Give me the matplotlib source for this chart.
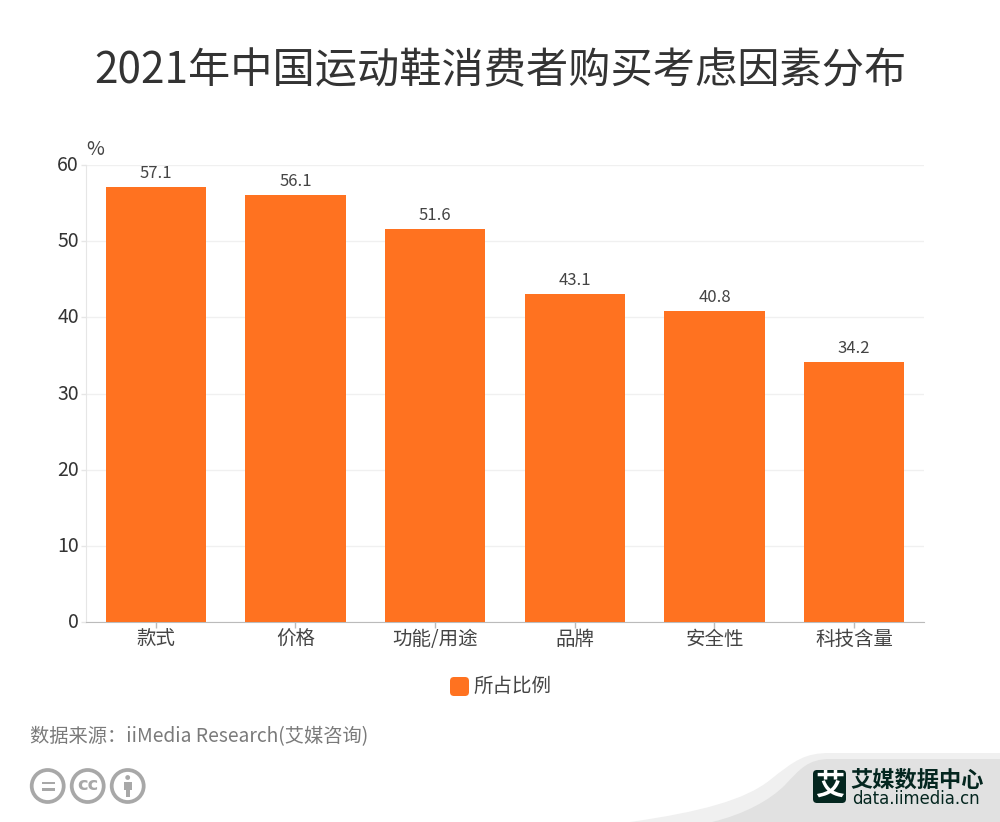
import matplotlib
matplotlib.use("Agg")
import matplotlib.pyplot as plt
from matplotlib.patches import Circle, FancyBboxPatch, PathPatch, Rectangle
from matplotlib.path import Path
from matplotlib.transforms import ScaledTranslation

plt.rcParams['font.family'] = ['Noto Sans CJK SC', 'DejaVu Sans']

title = "2021年中国运动鞋消费者购买考虑因素分布"
categories = ["款式", "价格", "功能/用途", "品牌", "安全性", "科技含量"]
values = [57.1, 56.1, 51.6, 43.1, 40.8, 34.2]
y_ticks = [0, 10, 20, 30, 40, 50, 60]
series_name = "所占比例"
source = "数据来源：iiMedia Research(艾媒咨询)"

orange = "#ff7220"
W, H = 1000, 822

fig = plt.figure(figsize=(10, 8.22), dpi=100)

# 背景层，用像素坐标画页脚装饰
bg = fig.add_axes([0, 0, 1, 1])
bg.set_xlim(0, W)
bg.set_ylim(H, 0)
bg.axis("off")

# 右下角灰色弧形
codes = [Path.MOVETO, Path.CURVE4, Path.CURVE4, Path.CURVE4, Path.CURVE4, Path.CURVE4, Path.CURVE4,
         Path.LINETO, Path.LINETO, Path.CLOSEPOLY]
light = Path([(630, 822), (700, 812), (745, 800), (770, 780), (795, 760), (805, 753), (830, 753),
              (1000, 753), (1000, 822), (630, 822)], codes)
bg.add_patch(PathPatch(light, fc="#f0f0f0", ec="none"))
dark = Path([(712, 822), (745, 814), (770, 800), (785, 785), (800, 769), (808, 759), (830, 759),
             (1000, 759), (1000, 822), (712, 822)], codes)
bg.add_patch(PathPatch(dark, fc="#e1e1e1", ec="none"))

# 艾媒 logo
bg.add_patch(FancyBboxPatch((813, 770), 33, 33, boxstyle="round,pad=0,rounding_size=4", fc="#04261f", ec="none"))
bg.text(829.5, 785.5, "艾", color="white", fontsize=21, fontweight="bold", ha="center", va="center")
bg.text(917, 780, "艾媒数据中心", color="#04261f", fontsize=16, fontweight="bold", ha="center", va="center")
bg.text(915.5, 798.5, "data.iimedia.cn", color="#04261f", fontsize=11.9, ha="center", va="center", family="DejaVu Sans")

# 版权图标
icon = "#a8a8a8"
for cx in [47.7, 87.7, 127.7]:
    bg.add_patch(Circle((cx, 786), 16, fc="none", ec=icon, lw=2.7))
bg.add_patch(Rectangle((41.5, 781.5), 13, 2.6, fc=icon, ec="none"))
bg.add_patch(Rectangle((41.5, 788), 13, 2.6, fc=icon, ec="none"))
bg.text(87.7, 785, "cc", color=icon, fontsize=13, fontweight="bold", ha="center", va="center", family="DejaVu Sans")
bg.add_patch(Circle((127.7, 777.5), 2.4, fc=icon, ec="none"))
bg.add_patch(Rectangle((124, 782), 7.5, 8, fc=icon, ec="none"))
bg.add_patch(Rectangle((125.5, 789), 4.5, 8, fc=icon, ec="none"))

bg.text(W / 2, 71.5, title, color="#333333", fontsize=30.4, ha="center", va="center")
bg.text(30, 737, source, color="#7a7a7a", fontsize=13.85, ha="left", va="center")

# 主图
ax = fig.add_axes([86 / W, (H - 622) / H, (924 - 86) / W, (622 - 165) / H])
ax.set_facecolor("none")
x = list(range(len(categories)))
ax.bar(x, values, width=0.716, color=orange, zorder=3)
for xi, v in zip(x, values):
    ax.annotate(f"{v}", (xi, v), xytext=(0, 3.5), textcoords="offset points", ha="center", va="bottom",
                fontsize=12, color="#444444", zorder=4)

ax.set_xlim(-0.5, len(categories) - 0.5)
ax.set_ylim(0, 60)
ax.set_yticks(y_ticks)
ax.set_xticks(x)
ax.set_xticklabels(categories)
ax.tick_params(axis="x", length=4, width=1, color="#bbbbbb", labelsize=14, labelcolor="#444444", pad=1)
ax.tick_params(axis="y", length=3.6, width=1, color="#e6e6e6", labelsize=14, labelcolor="#333333", pad=1.5)
# y 轴数字比刻度略高
for lab in ax.get_yticklabels():
    lab.set_transform(lab.get_transform() + ScaledTranslation(0, 2 / 100, fig.dpi_scale_trans))
ax.grid(axis="y", color="#f0f0f0", lw=1, zorder=0)
for s in ["top", "right"]:
    ax.spines[s].set_visible(False)
ax.spines["left"].set_color("#e6e6e6")
ax.spines["bottom"].set_color("#bbbbbb")

bg.text(86, 149.5, "%", color="#444444", fontsize=14, ha="left", va="center")

# 图例
bg.add_patch(FancyBboxPatch((450, 677), 19, 19, boxstyle="round,pad=0,rounding_size=4", fc=orange, ec="none"))
bg.text(473, 686, series_name, color="#444444", fontsize=14, ha="left", va="center")

fig.savefig("out.png", dpi=100)
